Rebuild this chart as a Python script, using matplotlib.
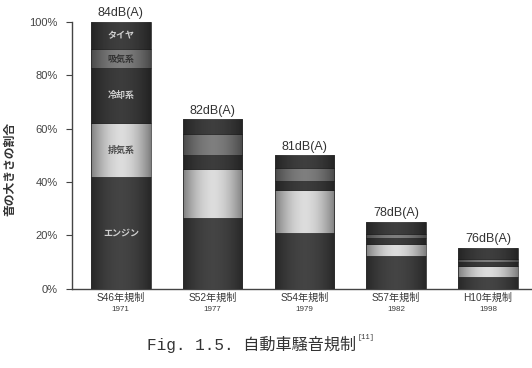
# 自動車騒音規制: 音の大きさの割合（積み上げ棒グラフ）
import numpy as np
import matplotlib
matplotlib.use('Agg')
import matplotlib.pyplot as plt

# データ
regulations = ['S46年規制', 'S52年規制', 'S54年規制', 'S57年規制', 'H10年規制']
years = ['1971', '1977', '1979', '1982', '1998']
levels = ['84dB(A)', '82dB(A)', '81dB(A)', '78dB(A)', '76dB(A)']

engine = [42.0, 26.3, 21.0, 12.4, 4.5]
exhaust = [19.9, 18.5, 16.0, 4.2, 4.0]
cooling = [20.6, 5.3, 3.3, 2.5, 1.6]
intake = [7.1, 7.7, 5.0, 1.4, 1.0]
tire = [10.4, 5.6, 4.7, 4.6, 4.3]

components = ['エンジン', '排気系', '冷却系', '吸気系', 'タイヤ']
series = [engine, exhaust, cooling, intake, tire]
colors = ['#444444', '#dcdcdc', '#3c3c3c', '#7e7e7e', '#3e3e3e']
label_colors = ['#cfcfcf', '#4a4a4a', '#cfcfcf', '#333333', '#cfcfcf']

jp = ['Noto Sans CJK JP', 'DejaVu Sans']
latin = ['Liberation Sans', 'Noto Sans CJK JP']

fig = plt.figure(figsize=(5.32, 3.68), dpi=100)
ax = fig.add_axes([0.135, 0.2155, 0.865, 0.7255])

x = np.arange(len(regulations))
width = 0.65

# 横方向のグラデーション（円柱風の陰影）
grad = np.linspace(-1, 1, 64)
shade = np.zeros((1, 64, 4))
shade[..., 3] = 0.42 * np.abs(grad) ** 1.8

bottom = np.zeros(len(x))
for vals, col in zip(series, colors):
    bars = ax.bar(x, vals, width, bottom=bottom, color=col,
                  edgecolor='#2a2a2a', linewidth=0.5, zorder=2)
    for rect in bars:
        im = ax.imshow(shade, extent=[rect.get_x(), rect.get_x() + rect.get_width(),
                                      rect.get_y(), rect.get_y() + rect.get_height()],
                       aspect='auto', zorder=3, interpolation='bilinear')
        im.set_clip_path(rect)
    bottom += np.array(vals)

# 最初の棒の内訳ラベル
b = 0.0
for name, vals, tc in zip(components, series, label_colors):
    ax.text(x[0], b + vals[0] / 2, name, ha='center', va='center',
            fontsize=6.5, color=tc, family=jp, fontweight='bold', zorder=4)
    b += vals[0]

# 騒音レベル
for xi, tot, lv in zip(x, bottom, levels):
    ax.text(xi, tot + 1.0, lv, ha='center', va='bottom', fontsize=9,
            color='#333333', family=latin, clip_on=False)

# x軸ラベル（2段）
trans = ax.get_xaxis_transform()
for xi, reg, yr in zip(x, regulations, years):
    ax.text(xi, -0.015, reg, transform=trans, ha='center', va='top',
            fontsize=7.3, color='#3a3a3a', family=latin)
    ax.text(xi, -0.063, yr, transform=trans, ha='center', va='top',
            fontsize=5.8, color='#3a3a3a', family=latin)

ax.set_xlim(-0.534, 4.48)
ax.set_ylim(0, 100)
ax.set_xticks([])
ax.set_yticks([0, 20, 40, 60, 80, 100])
ax.set_yticklabels(['0%', '20%', '40%', '60%', '80%', '100%'], family=latin)
ax.tick_params(axis='y', direction='out', length=4, width=0.8, colors='#444444',
               labelsize=8, pad=6)
ax.set_ylabel('音の大きさの割合', fontsize=8.5, family=jp, color='#333333',
              fontweight='bold', labelpad=8)
ax.yaxis.set_label_coords(-0.12, 0.45)

for s in ['top', 'right']:
    ax.spines[s].set_visible(False)
for s in ['left', 'bottom']:
    ax.spines[s].set_color('#444444')
    ax.spines[s].set_linewidth(1.0)

# キャプション
fig.text(0.276, 0.048, 'Fig. 1.5. 自動車騒音規制', ha='left', va='baseline',
         fontsize=11.6, color='#333333', family=['Liberation Mono', 'Noto Sans CJK JP'])
fig.text(0.672, 0.078, '[11]', ha='left', va='baseline', fontsize=5,
         color='#333333', family=['Liberation Mono'])

fig.savefig('out.png', dpi=100, facecolor='white')
